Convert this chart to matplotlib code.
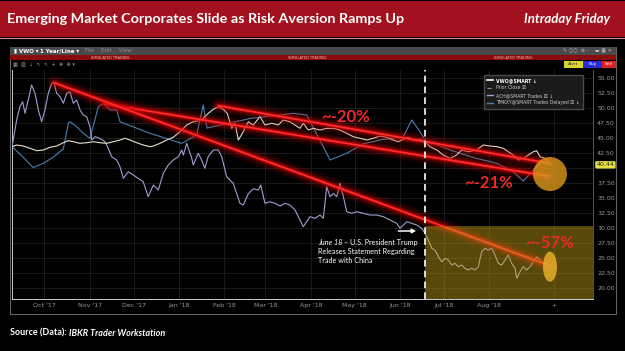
"""
Recreation of an IBKR TWS screenshot: VWO vs ACH vs TMKXY, one year to Sep 2018,
with the hand-drawn red trend lines and percentage call-outs.
"""

import matplotlib
matplotlib.use("Agg")
import matplotlib.pyplot as plt
import matplotlib.transforms as mtransforms
from matplotlib.patches import Rectangle, Ellipse
from matplotlib.lines import Line2D

plt.rcParams["font.family"] = ["Lato", "DejaVu Sans"]

W, H = 625, 351

# x is counted in days from 1 Oct 2017
month_days = [0, 31, 61, 92, 123, 151, 182, 212, 243, 273, 304]
month_labels = ["Oct '17", "Nov '17", "Dec '17", "Jan '18", "Feb '18", "Mar '18",
                "Apr '18", "May '18", "Jun '18", "Jul '18", "Aug '18"]
today_day = 348
june18_day = 260
y_ticks = [20.0, 22.5, 25.0, 27.5, 30.0, 32.5, 35.0, 37.5, 40.0,
           42.5, 45.0, 47.5, 50.0, 52.5, 55.0]
last_price = 40.44

vwo_days = [-22.2, -19.0, -14.5, -9.9, -5.3, -0.8, 3.8, 8.3, 12.9, 16.3, 19.7, 24.3,
            28.8, 33.4, 37.9, 42.5, 47.0, 51.6, 55.0, 58.4, 63.0, 67.5, 72.1, 74.4,
            79.0, 83.5, 88.0, 92.6, 97.2, 101.7, 105.1, 108.5, 112.0, 115.4, 118.8,
            122.2, 124.9, 128.0, 130.2, 132.5, 135.9, 139.3, 142.7, 147.3, 150.7,
            155.3, 159.8, 163.2, 167.8, 174.6, 176.9, 180.3, 183.7, 188.3, 192.9,
            197.4, 202.0, 206.6, 211.1, 215.7, 220.2, 224.8, 229.3, 233.9, 238.4,
            241.8, 245.3, 248.7, 252.1, 256.7, 260.1, 263.5, 268.1, 272.6, 277.2,
            281.7, 285.2, 289.7, 295.4, 299.9, 304.5, 309.1, 313.6, 317.0, 320.4,
            323.9, 327.3, 330.7, 334.1, 336.4, 338.7, 342.1, 346.0]
vwo_vals = [43.47, 43.75, 43.58, 43.20, 42.80, 42.92, 43.37, 43.58, 44.13, 44.47, 44.30,
            44.03, 44.13, 44.30, 44.13, 44.03, 44.30, 44.58, 44.87, 44.58, 44.13, 43.75,
            43.47, 43.58, 44.03, 44.58, 45.03, 45.97, 47.08, 47.63, 47.80, 48.20, 49.03,
            49.70, 50.13, 49.70, 49.03, 46.53, 47.37, 44.58, 45.97, 47.63, 47.08, 48.47,
            47.08, 47.37, 47.08, 47.92, 47.63, 46.53, 47.37, 46.25, 46.53, 46.25, 46.53,
            46.53, 46.25, 45.70, 45.13, 44.87, 44.58, 44.87, 45.25, 45.03, 44.58, 44.30,
            44.70, 45.03, 44.58, 44.70, 44.30, 43.47, 42.92, 42.08, 41.53, 42.08, 42.92,
            42.63, 42.92, 43.75, 43.58, 43.47, 43.20, 42.63, 42.08, 41.25, 41.53, 42.08,
            42.63, 42.80, 41.80, 41.53, 40.44]

ach_days = [-22.2, -20.2, -19.0, -16.8, -14.9, -13.3, -11.1, -8.8, -6.5, -4.2, -1.9, 0.3,
            2.6, 4.9, 6.5, 8.3, 10.6, 12.9, 15.2, 17.4, 19.7, 22.0, 24.3, 26.5, 28.8,
            31.1, 32.3, 34.5, 37.9, 41.4, 43.6, 45.9, 49.3, 51.6, 53.9, 57.3, 60.7, 64.1,
            67.5, 70.9, 74.4, 77.8, 81.2, 84.6, 88.0, 91.5, 93.8, 94.9, 97.2, 100.6,
            101.7, 105.1, 107.4, 109.6, 111.9, 115.4, 118.8, 121.1, 124.5, 129.0, 133.6,
            135.9, 139.3, 142.7, 146.1, 147.8, 150.7, 154.1, 157.6, 161.0, 164.4, 167.8,
            171.2, 174.6, 176.9, 179.2, 181.5, 184.9, 188.3, 190.6, 192.9, 195.2, 197.4,
            199.7, 202.0, 204.3, 206.6, 210.0, 213.4, 217.9, 222.5, 227.1, 231.6, 236.2,
            240.7, 243.0, 245.3, 247.6, 251.0, 254.4, 257.8, 260.1, 262.3, 264.7, 266.9,
            269.2, 271.5, 273.8, 276.0, 278.3, 280.6, 282.9, 285.2, 287.4, 289.7, 292.0,
            294.3, 296.5, 298.8, 301.1, 303.3, 305.7, 307.9, 310.2, 312.5, 314.8, 317.0,
            319.3, 321.6, 322.8, 325.0, 327.3, 329.6, 331.9, 334.1, 336.4, 338.7, 341.1]
ach_vals = [43.47, 46.25, 47.92, 50.13, 50.97, 49.03, 51.25, 53.75, 52.37, 49.58, 47.63,
            49.58, 52.37, 54.03, 54.13, 52.37, 51.80, 50.70, 52.37, 52.63, 50.70, 51.25,
            49.58, 48.75, 48.47, 46.80, 44.58, 45.13, 44.87, 44.30, 43.20, 41.80, 41.25,
            40.13, 38.20, 39.30, 38.75, 38.20, 37.63, 35.13, 37.08, 36.25, 39.03, 40.42,
            41.25, 41.80, 42.92, 42.08, 44.03, 41.58, 40.42, 42.37, 41.25, 39.87, 41.80,
            42.92, 42.92, 41.80, 38.47, 37.37, 34.03, 33.75, 35.62, 36.45, 36.25, 37.08,
            34.03, 34.30, 34.03, 33.58, 34.03, 33.75, 32.92, 31.25, 30.13, 30.97, 31.80,
            31.53, 32.08, 31.53, 36.80, 35.13, 35.70, 35.13, 37.37, 35.13, 32.63, 32.37,
            32.63, 32.37, 32.08, 32.08, 31.80, 31.25, 30.70, 29.87, 30.42, 30.97, 30.70,
            30.42, 29.87, 29.03, 27.92, 26.53, 26.25, 25.13, 24.30, 24.87, 24.58, 23.75,
            24.03, 23.47, 23.75, 23.20, 22.92, 23.20, 22.92, 23.47, 25.97, 26.53, 26.25,
            26.53, 25.42, 24.03, 23.75, 24.58, 25.42, 24.03, 23.20, 21.53, 22.63, 23.47,
            22.92, 23.47, 24.30, 25.13, 24.58, 24.03]

tmk_days = [-22.2, -14.5, -7.7, -0.8, 6.0, 12.9, 16.3, 17.4, 22.0, 26.5, 31.1, 36.8,
            40.2, 44.8, 49.4, 51.6, 72.1, 93.8, 104.0, 108.5, 111.1, 140.5, 170.1,
            179.2, 185.6, 195.2, 206.6, 217.9, 229.3, 245.3, 251.0, 256.7, 260.1,
            277.2, 294.3, 309.3, 320.4, 327.3, 334.1, 339.4]
tmk_vals = [43.47, 41.72, 40.00, 40.70, 41.72, 43.12, 47.37, 47.63, 46.80, 45.70, 44.87,
            50.13, 50.70, 49.58, 49.58, 47.63, 45.70, 44.03, 45.42, 50.42, 46.58, 48.17,
            49.03, 48.75, 45.80, 41.25, 42.37, 43.95, 44.58, 45.13, 47.92, 45.97, 44.58,
            42.92, 41.58, 40.70, 39.25, 37.75, 39.58, 40.75]

# hand-drawn trend lines (start, end) and their call-outs
ach_trend_days, ach_trend_vals = [6.5, 344.0], [54.13, 23.75]
vwo_trend_days, vwo_trend_vals = [118.8, 344.0], [50.30, 40.75]
tmk_trend_days, tmk_trend_vals = [41.4, 344.0], [50.58, 38.58]
callout_texts = ["~-20%", "~-21%", "~-57%"]
callout_days = [205.4, 303.8, 345.5]
callout_vals = [48.42, 37.42, 27.5]

VWO_C, ACH_C, TMK_C = "#e6e2cf", "#a0a0d2", "#4f80aa"


def main() -> None:
    fig = plt.figure(figsize=(W / 100, H / 100), dpi=100, facecolor="black")

    # ---- page chrome, drawn in pixel coordinates ----
    bg = fig.add_axes([0, 0, 1, 1])
    bg.set_xlim(0, W)
    bg.set_ylim(H, 0)
    bg.axis("off")

    bg.add_patch(Rectangle((0, 1), W, 36, fc="#a3111f", ec="none"))
    bg.plot([0, W], [37.5, 37.5], color="#d68a92", lw=0.8)
    bg.text(7, 19, "Emerging Market Corporates Slide as Risk Aversion Ramps Up",
            color="white", fontsize=10.4, fontweight="bold", va="center")
    bg.text(610, 19, "Intraday Friday", color="white", fontsize=9.5,
            fontweight="bold", fontstyle="italic", ha="right", va="center")

    bg.add_patch(Rectangle((10, 47), 606, 267, fc="black", ec="#7a7a7a", lw=0.6))
    bg.add_patch(Rectangle((10, 47), 606, 8, fc="#4a4a4a", ec="none"))
    bg.add_patch(Rectangle((10, 55), 606, 5, fc="#8c0c0c", ec="none"))
    small = dict(family=["DejaVu Sans"], va="center")
    bg.text(14, 51, "▮ VWO ▾", color="white", fontsize=4, fontweight="bold", **small)
    bg.text(40, 51, "1 Year/Line ▾", color="white", fontsize=4, fontweight="bold", **small)
    bg.text(85, 51, "File    Edit    View", color="#8a8a8a", fontsize=4, **small)
    bg.text(563, 51, "✎ ○○  ≡ ·    ▬ ▣ ✕", color="#bdbdbd", fontsize=3.6, **small)
    for x in (110, 307, 513):
        bg.text(x, 57.6, "SIMULATED TRADING", color="#f0b8b8", fontsize=2.6,
                ha="center", **small)
    bg.text(13, 64.5, "▦  ▧  ⇣  ↖  ↖  +  ✥  ✥ ▾", color="#9a9a9a", fontsize=3.6, **small)
    for x0, x1, fc, label, tc in ((564, 583, "#d6d62e", "Alert", "#333333"),
                                  (583, 602, "#2b2bd6", "Buy", "white"),
                                  (602, 616, "#e02222", "Sell", "white")):
        bg.add_patch(Rectangle((x0, 60.5), x1 - x0, 7, fc=fc, ec="none"))
        bg.text((x0 + x1) / 2, 64, label, color=tc, fontsize=3.2, ha="center", **small)

    s1 = bg.text(10, 333, "Source (Data):", color="white", fontsize=6.5,
                 fontweight="bold", va="center")
    bg.annotate(" IBKR Trader Workstation", xy=(1, 0), xycoords=s1, va="bottom",
                color="white", fontsize=6.5, fontweight="bold", fontstyle="italic")

    # ---- the chart ----
    ax = fig.add_axes([12 / W, 1 - 298.5 / H, 581 / W, 228.5 / H], zorder=2)
    ax.set_facecolor("black")
    ax.set_xlim(-22.2, 374.9)
    ax.set_ylim(18.17, 56.25)

    ax.plot(tmk_days, tmk_vals, color=TMK_C, lw=0.8, zorder=3)
    ax.plot(ach_days, ach_vals, color=ACH_C, lw=0.8, zorder=3)
    ax.plot(vwo_days, vwo_vals, color=VWO_C, lw=0.8, zorder=4)

    # glowing red trend lines
    for days, vals in ((tmk_trend_days, tmk_trend_vals),
                       (vwo_trend_days, vwo_trend_vals),
                       (ach_trend_days, ach_trend_vals)):
        for lw, a in ((11, 0.10), (7.5, 0.16), (4.5, 0.32), (2.6, 0.6)):
            ax.plot(days, vals, color="#d80000", lw=lw, alpha=a,
                    solid_capstyle="round", zorder=5)
        ax.plot(days, vals, color="#ff3030", lw=1.2, solid_capstyle="round", zorder=5)

    # post-June-18 shading and marker line
    ax.add_patch(Rectangle((june18_day, 18.17), 374.9 - june18_day, 30.2 - 18.17,
                           fc="#c4a015", alpha=0.45, ec="#9a7d18", lw=0.6, zorder=6))
    ax.axvline(june18_day, color="white", lw=1.2, ls=(0, (4, 2.5)), zorder=7)

    ax.add_patch(Ellipse((345.5, 38.92), 23.2, 5.67, fc="#dc9a1c", alpha=0.8,
                         ec="none", zorder=7))
    ax.add_patch(Ellipse((345.5, 23.47), 9.6, 5.0, fc="#e2ab2a", alpha=0.88,
                         ec="none", zorder=7))

    for txt, d, v in zip(callout_texts, callout_days, callout_vals):
        ax.text(d, v, txt, color="#ea2a2a", fontsize=12, fontweight="bold",
                ha="center", va="center", zorder=8)

    ax.annotate("", xy=(256, 29.42), xytext=(240, 29.42),
                arrowprops=dict(arrowstyle="-|>", color="white", lw=1.1,
                                mutation_scale=6), zorder=8)
    t1 = ax.text(187, 27.5, "June 18", color="white", fontsize=5.2,
                 fontstyle="italic", va="center", zorder=8)
    ax.annotate(" \u2013 U.S. President Trump", xy=(1, 0), xycoords=t1,
                color="white", fontsize=5.2, va="bottom", zorder=8)
    ax.text(187, 26.0, "Releases Statement Regarding", color="white", fontsize=5.2,
            va="center", zorder=8)
    ax.text(187, 24.5, "Trade with China", color="white", fontsize=5.2,
            va="center", zorder=8)

    # axes styling like TWS
    ax.set_xticks(month_days + [today_day])
    ax.set_xticklabels(month_labels + ["+"])
    ax.set_yticks(y_ticks)
    ax.set_yticklabels(["" if t == 40.0 else f"{t:.2f}" for t in y_ticks])
    ax.yaxis.tick_right()
    ax.tick_params(length=0, labelsize=4.5, labelcolor="#9a9a9a", pad=3)
    for lab in ax.get_xticklabels() + ax.get_yticklabels():
        lab.set_family("DejaVu Sans")
    ax.grid(color="#1e1e1e", lw=0.6)
    ax.set_axisbelow(True)
    ax.spines["top"].set_visible(False)
    ax.spines["left"].set_color("#cfcfcf")
    ax.spines["bottom"].set_color("#cfcfcf")
    ax.spines["right"].set_color("#555555")
    for s in ("left", "bottom", "right"):
        ax.spines[s].set_linewidth(0.7)

    tag = mtransforms.blended_transform_factory(ax.transAxes, ax.transData)
    ax.text(1.006, last_price, f"{last_price:.2f}", transform=tag, color="#2a2a00",
            fontsize=4.5, family="DejaVu Sans", va="center", ha="left", zorder=9,
            clip_on=False,
            bbox=dict(boxstyle="round,pad=0.2", fc="#e4df48", ec="none"))

    handles = [Line2D([], [], color="white", lw=1.2),
               Line2D([], [], color="#8a8a8a", lw=0.8, ls="--"),
               Line2D([], [], color=ACH_C, lw=1.0),
               Line2D([], [], color=TMK_C, lw=1.0)]
    labels = ["VWO@SMART \u2193", "Prior Close \u2612", "ACH@SMART Trades \u2612 \u2193",
              "TMKXY@SMART Trades Delayed \u2612 \u2193"]
    leg = ax.legend(handles, labels, loc="upper left", bbox_to_anchor=(0.808, 0.99),
                    prop={"family": ["DejaVu Sans"], "size": 3.3}, frameon=True,
                    facecolor="#1b1b1b", edgecolor="#4a4a4a", framealpha=1,
                    handlelength=1.3, handletextpad=0.6, labelspacing=0.55,
                    borderpad=0.7, fancybox=False)
    leg.set_zorder(9)
    for i, t in enumerate(leg.get_texts()):
        t.set_color("white" if i == 0 else "#c8c8c8")
        if i == 0:
            t.set_fontweight("bold")

    fig.savefig("out.png", dpi=100, facecolor="black")


if __name__ == "__main__":
    main()
